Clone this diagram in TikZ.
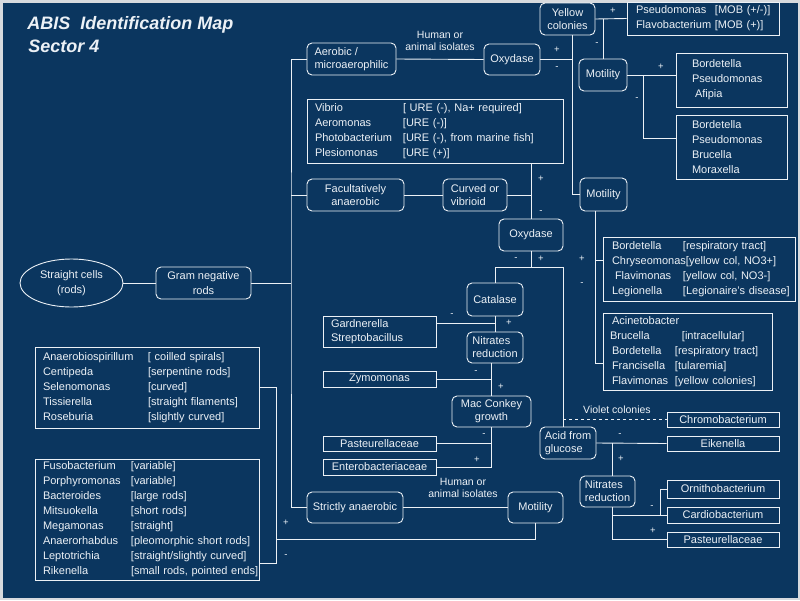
\documentclass[tikz,border=0pt]{standalone}
\usepackage{fontspec}
\setmainfont{Liberation Sans}
\usetikzlibrary{shapes.geometric}
\definecolor{navy}{RGB}{11,54,95}
\definecolor{fg}{RGB}{236,241,246}
\definecolor{framec}{RGB}{215,218,222}
\newcommand\nm[3]{\mbox{\makebox[#1pt][l]{#2}#3}}
\newcommand\ml[1]{\mbox{#1}}
\begin{document}
\begin{tikzpicture}[x=1pt,y=-1pt,line width=0.9pt,color=fg,
  every node/.style={text=fg},
  rbox/.style={draw=fg,rounded corners=5pt,inner sep=0pt,font=\fontsize{11}{13}\selectfont,align=center},
  lbox/.style={draw=fg,inner ysep=0pt,font=\fontsize{11}{15}\selectfont,align=left},
  sbox/.style={draw=fg,inner sep=0pt,font=\fontsize{11}{13}\selectfont},
  pm/.style={font=\fontsize{9.5}{10}\selectfont,inner sep=0pt},
  lbl/.style={font=\fontsize{10.5}{12.5}\selectfont,align=center,inner sep=0pt},
  titlef/.style={font=\fontsize{18}{23}\selectfont\bfseries\itshape,inner sep=0pt,anchor=base west}]
\useasboundingbox (0,0) rectangle (800,600);
\fill[framec] (0,0) rectangle (800,600);
\fill[navy] (2.5,2.5) rectangle (797.5,597.5);

\node[titlef] (t1) at (27,29) {ABIS\ \ Identification Map};
\node[titlef] (t2) at (28,52) {Sector 4};

% nodes
\node[ellipse,draw=fg,minimum width=103,minimum height=48,inner sep=0pt,align=center,font=\fontsize{11}{15}\selectfont] (ell) at (71.5,283) {Straight cells\\(rods)};
\node[rbox,minimum width=95,minimum height=32,font=\fontsize{11}{15}\selectfont] (gram) at (203.5,283) {Gram negative\\rods};
\node[rbox,minimum width=89,minimum height=32,align=left] (aer) at (351.5,59) {Aerobic /\\microaerophilic};
\node[rbox,minimum width=56,minimum height=31] (ox1) at (512,59.5) {Oxydase};
\node[rbox,minimum width=55,minimum height=32] (yel) at (567.5,19) {Yellow\\colonies};
\node[rbox,minimum width=48,minimum height=32] (mot1) at (603,75) {Motility};
\node[lbox,text width=134,inner xsep=9,minimum height=33] (ps) at (703,18.5) {\nm{79}{Pseudomonas}{[MOB (+/-)]}\\\ml{Flavobacterium [MOB (+)]}};
\node[lbox,text width=79,inner xsep=16,minimum height=54] (b1) at (731.5,80) {Bordetella\\Pseudomonas\\\hspace*{3pt}Afipia};
\node[lbox,text width=79,inner xsep=16,minimum height=64] (b2) at (731.5,147) {Bordetella\\Pseudomonas\\Brucella\\Moraxella};
\node[lbox,text width=240,inner xsep=8,minimum height=64] (vib) at (435,131) {\nm{88}{Vibrio}{[ URE (-), Na+ required]}\\\nm{88}{Aeromonas}{[URE (-)]}\\\nm{88}{Photobacterium}{[URE (-), from marine fish]}\\\nm{88}{Plesiomonas}{[URE (+)]}};
\node[rbox,minimum width=97,minimum height=32] (fac) at (355.5,195) {Facultatively\\anaerobic};
\node[rbox,minimum width=64,minimum height=32,align=left] (cur) at (475,195) {Curved or\\vibrioid};
\node[rbox,minimum width=64,minimum height=32] (ox2) at (531,235) {Oxydase};
\node[rbox,minimum width=47,minimum height=33] (mot2) at (603.5,194.5) {Motility};
\node[lbox,text width=174,inner xsep=9,minimum height=64] (m1) at (699,269) {\nm{71}{Bordetella}{[respiratory tract]}\\\ml{Chryseomonas[yellow col, NO3+]}\\\hspace*{3pt}\nm{68}{Flavimonas}{[yellow col, NO3-]}\\\nm{71}{Legionella}{[Legionaire's disease]}};
\node[lbox,text width=151,inner xsep=9,minimum height=77] (m2) at (687.5,351.5) {Acinetobacter\\\hspace*{-2pt}\nm{72}{Brucella}{[intracellular]}\\\nm{63}{Bordetella}{[respiratory tract]}\\\nm{63}{Francisella}{[tularemia]}\\\nm{63}{Flavimonas}{[yellow colonies]}};
\node[rbox,minimum width=56,minimum height=33] (cat) at (495,299.5) {Catalase};
\node[lbox,text width=97,inner xsep=8,minimum height=31,font=\fontsize{11}{14.5}\selectfont] (gard) at (379.5,331.5) {Gardnerella\\Streptobacillus};
\node[rbox,minimum width=56,minimum height=31,align=left] (nit1) at (495,347.5) {Nitrates\\reduction};
\node[sbox,minimum width=113,minimum height=16] (zym) at (379.5,379) {Zymomonas};
\node[rbox,minimum width=79,minimum height=31] (mac) at (491.5,411.5) {Mac Conkey\\growth};
\node[sbox,minimum width=113,minimum height=15] (past1) at (379.5,443.5) {Pasteurellaceae};
\node[sbox,minimum width=113,minimum height=16] (ent) at (379.5,467) {Enterobacteriaceae};
\node[rbox,minimum width=96,minimum height=31] (str) at (355,507.5) {Strictly anaerobic};
\node[rbox,minimum width=55,minimum height=31] (mot3) at (535.5,507.5) {Motility};
\node[lbox,text width=208,inner xsep=8,minimum height=81] (ana) at (147,387.5) {\nm{105}{Anaerobiospirillum}{[ coilled spirals]}\\\nm{105}{Centipeda}{[serpentine rods]}\\\nm{105}{Selenomonas}{[curved]}\\\nm{105}{Tissierella}{[straight filaments]}\\\nm{105}{Roseburia}{[slightly curved]}};
\node[lbox,text width=208,inner xsep=8,minimum height=121] (fus) at (147,519.5) {\nm{88}{Fusobacterium}{[variable]}\\\nm{88}{Porphyromonas}{[variable]}\\\nm{88}{Bacteroides}{[large rods]}\\\nm{88}{Mitsuokella}{[short rods]}\\\nm{88}{Megamonas}{[straight]}\\\nm{88}{Anaerorhabdus}{[pleomorphic short rods]}\\\nm{88}{Leptotrichia}{[straight/slightly curved]}\\\nm{88}{Rikenella}{[small rods, pointed ends]}};
\node[rbox,minimum width=56,minimum height=32,align=left] (acid) at (568,443) {Acid from\\glucose};
\node[sbox,minimum width=112,minimum height=15] (chr) at (723,419.5) {Chromobacterium};
\node[sbox,minimum width=112,minimum height=15] (eik) at (723,443.5) {Eikenella};
\node[rbox,minimum width=55,minimum height=31,align=left] (nit2) at (607.5,491.5) {Nitrates\\reduction};
\node[sbox,minimum width=112,minimum height=18] (orn) at (723,489) {Ornithobacterium};
\node[sbox,minimum width=112,minimum height=16] (car) at (723,515) {Cardiobacterium};
\node[sbox,minimum width=112,minimum height=15] (past2) at (723,539.5) {Pasteurellaceae};

\node[lbl] (hum1) at (440,41) {Human or\\animal isolates};
\node[lbl] (hum2) at (463,488) {Human or\\animal isolates};
\node[lbl,font=\fontsize{10.5}{12}\selectfont] (vio) at (617,410) {Violet colonies};

% connectors
\draw (ell.east) -- (gram.west);
\coordinate (tr) at (291,283);
\draw (gram.east) -- (tr);
\draw (aer.west) -| (tr) |- (str.west);
\draw (fac.west) -- (fac.west -| tr);
\draw (aer.east) -- (ox1.west);
\coordinate (v1) at ([xshift=4.5pt]yel.south);
\draw (v1) |- (mot2.west);
\draw (ox1.east) -- (ox1.east -| v1);
\draw (yel.east) -- (ps.west);
\draw (yel.east -| mot1.north) -- (mot1.north);
\coordinate (v2) at (643,0);
\draw (mot1.east) -- (mot1.east -| b1.west);
\coordinate (b2w) at ([yshift=9pt]b2.west);
\draw (mot1.east -| v2) |- (b2w);
\draw (ox2.north |- vib.south) -- (ox2.north);
\draw (fac.east) -- (cur.west);
\draw (cur.east) -- (cur.east -| ox2.north);
\coordinate (j2) at ([yshift=-16pt]ox2.south);
\coordinate (v3) at ([xshift=-5pt]acid.north);
\draw (ox2.south) -- (j2);
\draw (cat.north) |- (j2 -| v3) -- (v3);
\draw[dash pattern=on 3pt off 3pt] (chr.west -| v3) -- (chr.west);
\coordinate (v4) at ([xshift=-8.5pt]mot2.south);
\coordinate (m1w) at ([yshift=9pt]m1.west);
\coordinate (m2w) at ([yshift=-11.5pt]m2.west);
\draw (v4) |- (m1w);
\draw (v4) |- (m2w);
\draw (cat.south) -- (nit1.north);
\coordinate (g1) at ([yshift=8.5pt]gard.east);
\draw (g1) -- (g1 -| cat.south);
\draw (mac.north |- nit1.south) -- (mac.north);
\draw (zym.east) -- (zym.east -| mac.north);
\draw (mac.south) |- (ent.east);
\draw (past1.east) -- (past1.east -| mac.south);
\draw (str.east) -- (mot3.west);
\coordinate (j3) at (276,539);
\draw (mot3.south) |- (j3);
\draw (ana.east) -| (j3);
\coordinate (f1) at ([yshift=-43.5pt]fus.east);
\draw (j3) |- (f1);
\draw (acid.east) -- (eik.west);
\coordinate (v5) at ([xshift=4.5pt]nit2.north);
\coordinate (v6) at ([xshift=4.5pt]nit2.south);
\draw (acid.east -| v5) -- (v5);
\draw (v6) |- (past2.west);
\coordinate (k) at (660,0);
\draw (car.west -| v6) -- (car.west);
\draw (car.west -| k) |- (orn.west);

% plus / minus labels
\foreach \t/\x/\y [count=\i] in {+/557/50, -/557/68, +/613/11, -/597/44, +/661/67, -/637/99, +/541/179, -/541/212, -/516/259, +/541/259, +/582/259, -/582/284, -/452/315, +/509/323, -/476/372, +/501/387, -/484/435, +/477/460, +/286/523, -/286/556, -/620/435, +/621/459, -/652/507, +/653/531}
  \node[pm] (pm\i) at (\x,\y) {\t};
\end{tikzpicture}
\end{document}
